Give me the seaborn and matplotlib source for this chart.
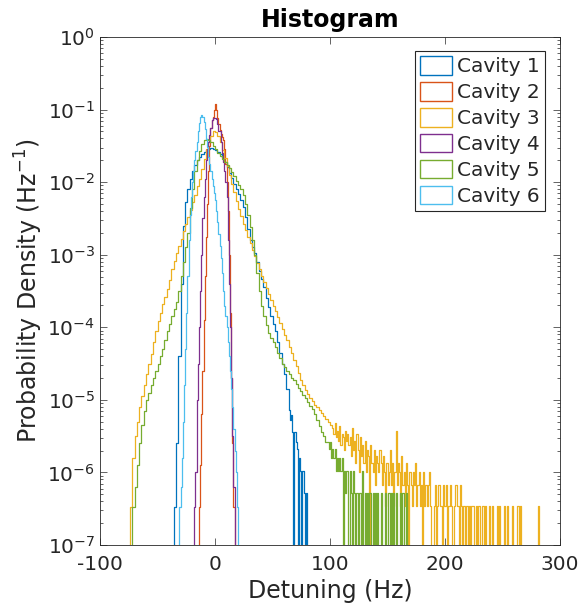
import numpy as np
import pandas as pd
import matplotlib
matplotlib.use("Agg")
import matplotlib.pyplot as plt
import seaborn as sns
from matplotlib.patches import Patch

# ---------------- data ----------------
cavities = ["Cavity 1", "Cavity 2", "Cavity 3", "Cavity 4", "Cavity 5", "Cavity 6"]
colors = ["#0072BD", "#D95319", "#EDB120", "#7E2F8E", "#77AC30", "#4DBEEE"]

# Cavity 1: 2 Hz bins starting at -36 Hz (log10 of pdf), then 1 Hz tail bins (counts)
c1_start, c1_width = -36, 2
c1_logpdf = [-6.47, -5.6, -4.4, -3.4, -2.6, -2.27, -2.1, -1.95, -1.84, -1.76,
             -1.7, -1.65, -1.61, -1.58, -1.56, -1.54, -1.53, -1.54, -1.56, -1.58,
             -1.61, -1.66, -1.72, -1.79, -1.87, -1.94, -2.02, -2.1, -2.17, -2.24,
             -2.34, -2.48, -2.65, -2.8, -2.9, -2.98, -3.1, -3.22, -3.33, -3.45,
             -3.6, -3.72, -3.84, -3.95, -4.05, -4.2, -4.35, -4.5, -4.65, -4.85]
c1_tail_counts = [14, 10, 12, 7, 0, 7, 5, 4, 0, 3, 2, 0, 2, 1, 0, 1]
c1_unit = 5.2e-7

# Cavity 2: 1 Hz bins starting at -14 Hz
c2_start, c2_width = -14, 1
c2_logpdf = [-6.47, -5.9, -5.2, -4.6, -3.9, -3.3, -2.75, -2.3, -1.85, -1.5,
             -1.25, -1.15, -1.1, -1.0, -0.93, -1.0, -1.12, -1.2, -1.28, -1.33,
             -1.38, -1.42, -1.55, -1.75, -2.0, -2.4, -3.0, -3.8, -4.7, -5.6, -6.47]

# Cavity 3: 2 Hz bins starting at -74 Hz, then 1 Hz tail bins (counts)
c3_start, c3_width = -74, 2
c3_logpdf = [-6.47, -5.8, -5.5, -5.3, -5.1, -4.95, -4.8, -4.65, -4.5, -4.37,
             -4.2, -4.05, -3.92, -3.8, -3.68, -3.58, -3.47, -3.35, -3.2, -3.08,
             -2.98, -2.88, -2.78, -2.68, -2.58, -2.48, -2.38, -2.28, -2.18, -2.06,
             -1.95, -1.82, -1.68, -1.55, -1.45, -1.36, -1.3, -1.31, -1.36, -1.45,
             -1.56, -1.67, -1.78, -1.9, -2.02, -2.14, -2.26, -2.37, -2.47, -2.57,
             -2.66, -2.75, -2.84, -2.93, -3.02, -3.11, -3.2, -3.29, -3.38, -3.46,
             -3.54, -3.62, -3.7, -3.78, -3.86, -3.94, -4.02, -4.1, -4.18, -4.27,
             -4.36, -4.45, -4.54, -4.63, -4.72, -4.8, -4.86, -4.92, -4.97, -5.02,
             -5.07, -5.1, -5.14, -5.18, -5.22, -5.26, -5.3, -5.35]
c3_tail_counts = [12, 10, 14, 9, 11, 8, 13, 7, 10, 9, 6, 11, 8, 10,
                  7, 9, 5, 12, 6, 8, 4, 10, 6, 3, 9, 5, 7, 4, 8, 3, 6, 5, 0, 7,
                  4, 3, 6, 2, 5, 4, 3, 6,
                  4, 2, 5, 3, 1, 4, 2, 3, 6, 2, 4, 1, 3, 11, 2, 4, 3, 1, 5, 2,
                  3, 1, 4, 2, 0, 3, 2, 1, 3, 2, 4, 1, 2, 3, 1, 2, 0, 3, 1, 2, 1, 2, 3, 1,
                  0, 0, 1, 2, 0, 1, 2, 2, 1, 0, 2, 1, 1, 2, 0, 1, 2, 1, 0, 0,
                  1, 2, 1, 1, 0, 2, 1, 0,
                  1, 0, 1, 1, 0, 1, 0, 1, 1, 0, 0, 1, 0, 1, 0, 0, 1, 1, 0, 1,
                  0, 0, 1, 0, 0, 1, 0, 0, 0, 1, 0, 1, 0, 0, 0, 1, 0, 0, 1, 0,
                  0, 0, 1, 0, 0, 0, 0, 1, 0, 1,
                  0, 0, 0, 0, 0, 0, 0, 0, 0, 0, 0, 0, 0, 0, 0, 1]
c3_unit = 3.4e-7

# Cavity 4: 1 Hz bins starting at -18 Hz
c4_start, c4_width = -18, 1
c4_logpdf = [-6.47, -6.0, -5.0, -4.5, -4.0, -3.5, -3.0, -2.5, -2.2, -1.95,
             -1.7, -1.55, -1.45, -1.35, -1.25, -1.15, -1.12, -1.12, -1.12, -1.13,
             -1.2, -1.3, -1.3, -1.45, -1.6, -1.72, -1.85, -2.0, -2.2, -2.8,
             -3.4, -4.0, -4.7, -5.5, -6.2]

# Cavity 5: 2 Hz bins starting at -72 Hz, then 1 Hz tail bins (counts)
c5_start, c5_width = -72, 2
c5_logpdf = [-6.47, -6.2, -5.9, -5.6, -5.35, -5.15, -5.0, -4.9, -4.8, -4.7,
             -4.6, -4.5, -4.4, -4.3, -4.18, -4.05, -3.95, -3.85, -3.75, -3.65,
             -3.5, -3.3, -3.1, -2.9, -2.7, -2.35, -2.1, -1.85, -1.7, -1.57,
             -1.48, -1.42, -1.4, -1.42, -1.45, -1.5, -1.55, -1.6, -1.64, -1.68,
             -1.72, -1.76, -1.8, -1.86, -1.92, -1.98, -2.04, -2.1, -2.18, -2.3,
             -2.45, -2.62, -2.8, -3.0, -3.25, -3.5, -3.7, -3.85, -3.97, -4.08,
             -4.15, -4.2, -4.27, -4.35, -4.42, -4.5, -4.55, -4.6, -4.65, -4.7,
             -4.73, -4.78, -4.83, -4.88, -4.93, -4.98, -5.03, -5.08, -5.13, -5.2,
             -5.28, -5.36, -5.44, -5.5, -5.58]
c5_tail_counts = [5, 4, 5, 3, 4, 3, 4, 2, 3, 2, 3, 2, 3, 0, 2, 1, 2, 2, 0, 2,
                  1, 0, 2, 1, 0, 1, 0, 1, 1, 0, 2, 0, 1, 0, 1, 0, 1, 1, 0, 1,
                  0, 1, 0, 1, 0, 0, 1, 0, 0, 0, 1, 0, 1, 1, 0, 1, 0, 1, 0, 1,
                  0, 0, 0, 1, 0, 1, 0, 0, 1]
c5_unit = 5.2e-7

# Cavity 6: 1 Hz bins starting at -31 Hz
c6_start, c6_width = -31, 1
c6_logpdf = [-6.47, -6.2, -5.8, -5.3, -4.8, -4.3, -3.8, -3.3, -2.8, -2.45,
             -2.2, -2.0, -1.85, -1.7, -1.57, -1.45, -1.3, -1.18, -1.1, -1.07,
             -1.1, -1.17, -1.27, -1.4, -1.52, -1.65, -1.75, -1.85, -1.95, -2.05,
             -2.15, -2.25, -2.4, -2.55, -2.72, -2.88, -3.05, -3.25, -3.5, -3.7,
             -3.85, -4.0, -4.2, -4.4, -4.6, -4.85, -5.1, -5.4, -5.7, -6.0, -6.47]

FLOOR = 1e-12  # empty bin (below the axis)


def build(start, width, logpdf, tail_counts=(), unit=1.0):
    vals = list(10.0 ** np.asarray(logpdf, dtype=float))
    edges = list(start + width * np.arange(len(logpdf) + 1, dtype=float))
    if len(tail_counts):
        t0 = edges[-1]
        edges += list(t0 + np.arange(1, len(tail_counts) + 1, dtype=float))
        vals += [c * unit if c > 0 else FLOOR for c in tail_counts]
    xs = [edges[0]] + edges
    ys = [FLOOR] + vals + [FLOOR]
    return xs, ys


series = [
    build(c1_start, c1_width, c1_logpdf, c1_tail_counts, c1_unit),
    build(c2_start, c2_width, c2_logpdf),
    build(c3_start, c3_width, c3_logpdf, c3_tail_counts, c3_unit),
    build(c4_start, c4_width, c4_logpdf),
    build(c5_start, c5_width, c5_logpdf, c5_tail_counts, c5_unit),
    build(c6_start, c6_width, c6_logpdf),
]

frames = []
for name, (xs, ys) in zip(cavities, series):
    frames.append(pd.DataFrame({"Detuning": xs, "pdf": ys, "cavity": name}))
df = pd.concat(frames, ignore_index=True)

# ---------------- plot ----------------
sns.set_style("ticks")
plt.rcParams["font.family"] = ["DejaVu Sans"]
plt.rcParams["axes.unicode_minus"] = False

fig = plt.figure(figsize=(5.82, 6.12), dpi=100)
ax = fig.add_axes([100 / 582, 67 / 612, 460 / 582, 508 / 612])

palette = dict(zip(cavities, colors))
for name in cavities:
    sub = df[df["cavity"] == name]
    sns.lineplot(data=sub, x="Detuning", y="pdf", color=palette[name],
                 sort=False, estimator=None, drawstyle="steps-post",
                 lw=0.9, ax=ax, legend=False)

ax.set_yscale("log")
ax.set_xlim(-100, 300)
ax.set_ylim(1e-7, 1)
ax.set_xticks([-100, 0, 100, 200, 300])

dark = "#262626"
for s in ax.spines.values():
    s.set_visible(True)
    s.set_color(dark)
    s.set_linewidth(0.6)
ax.tick_params(which="both", direction="in", top=True, right=True,
               colors=dark, labelsize=14.5, width=0.5)
ax.tick_params(which="major", length=5)
ax.tick_params(which="minor", length=2.5)
ax.tick_params(axis="x", pad=7)

ax.set_xlabel("Detuning (Hz)", fontsize=17, color=dark, labelpad=4)
ax.set_ylabel("Probability Density (Hz$^{-1}$)", fontsize=17, color=dark, labelpad=2)
ax.set_title("Histogram", fontsize=17, fontweight="bold", color="black", pad=7)

handles = [Patch(facecolor="white", edgecolor=c, lw=1.0) for c in colors]
leg = ax.legend(handles, cavities, loc="upper right", bbox_to_anchor=(0.968, 0.972),
                fancybox=False, edgecolor=dark, framealpha=1, fontsize=14.5,
                handlelength=1.6, handleheight=1.05, borderpad=0.25,
                labelspacing=0.28, handletextpad=0.25, borderaxespad=0)
leg.get_frame().set_linewidth(0.8)

fig.savefig("out.png", dpi=100)
